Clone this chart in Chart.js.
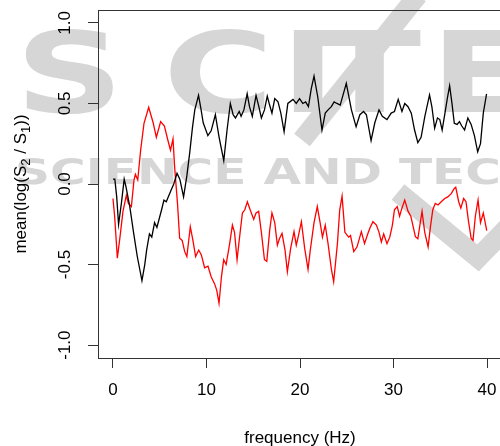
<!DOCTYPE html>
<html>
<head>
<meta charset="utf-8">
<script src="https://cdn.jsdelivr.net/npm/chart.js@4.4.1/dist/chart.umd.min.js"></script>
<style>
  html, body { margin: 0; padding: 0; background: #fff; overflow: hidden; }
  #wrap { width: 500px; height: 446px; overflow: hidden; }
  canvas { display: block; }
</style>
</head>
<body>
<div id="wrap"><canvas id="spectrumChart" width="510" height="446"></canvas></div>
<script>
// frequency (Hz) / mean(log(S2/S1))
var freqBlack = [0.0, 0.2, 0.4, 0.6, 0.9, 1.2, 1.4, 1.8, 2.2, 2.6, 3.1, 3.4, 3.6, 3.9, 4.15, 4.45, 4.7, 5.2, 5.45, 5.7,
  6.2, 6.5, 6.85, 7.15, 7.55, 7.9, 8.2, 8.5, 8.75, 9.15, 9.4, 9.65, 10.15, 10.5, 10.95, 11.35, 11.85, 12.2, 12.55, 12.85,
  13.1, 13.5, 13.7, 14.0, 14.35, 14.6, 14.9, 15.3, 15.6, 15.87, 16.2, 16.5, 16.75, 17.0, 17.3, 17.65, 17.95, 18.3, 18.7, 19.25,
  19.6, 19.95, 20.3, 20.6, 20.9, 21.2, 21.5, 21.9, 22.35, 22.7, 23.0, 23.35, 23.65, 23.95, 24.3, 24.95, 25.5, 26.0, 26.4, 26.8,
  27.1, 27.6, 28.0, 28.45, 28.8, 29.3, 29.75, 30.1, 30.5, 30.9, 31.2, 31.55, 31.9, 32.25, 32.6, 32.95, 33.35, 33.85, 34.1, 34.4,
  34.7, 34.95, 35.2, 35.5, 35.75, 36.0, 36.25, 36.5, 36.8, 37.05, 37.3, 37.6, 37.95, 38.3, 38.65, 39.0, 39.3, 39.6, 39.95];
var logRatioBlack = [0.03, 0.03, -0.08, -0.25, -0.12, 0.03, -0.02, -0.14, -0.3, -0.45, -0.6, -0.5, -0.41, -0.31, -0.33, -0.24, -0.27, -0.16, -0.1, -0.11,
  -0.04, 0.0, 0.066, 0.03, -0.08, 0.05, 0.19, 0.35, 0.46, 0.55, 0.47, 0.38, 0.3, 0.33, 0.43, 0.29, 0.145, 0.335, 0.5, 0.43,
  0.41, 0.45, 0.42, 0.46, 0.56, 0.48, 0.42, 0.55, 0.48, 0.41, 0.46, 0.545, 0.49, 0.44, 0.53, 0.51, 0.44, 0.325, 0.5, 0.525,
  0.5, 0.53, 0.5, 0.51, 0.48, 0.59, 0.67, 0.54, 0.335, 0.44, 0.46, 0.48, 0.51, 0.5, 0.49, 0.625, 0.46, 0.355, 0.43, 0.45,
  0.43, 0.27, 0.38, 0.46, 0.42, 0.4, 0.44, 0.45, 0.525, 0.45, 0.5, 0.48, 0.44, 0.335, 0.257, 0.29, 0.42, 0.553, 0.48, 0.346,
  0.41, 0.4, 0.335, 0.44, 0.53, 0.61, 0.5, 0.377, 0.37, 0.387, 0.36, 0.335, 0.41, 0.37, 0.3, 0.2, 0.25, 0.44, 0.56];

var freqRed = [0.0, 0.18, 0.47, 0.75, 1.07, 1.43, 1.65, 1.97, 2.25, 2.4, 2.65, 2.96, 3.32, 3.82, 4.3, 4.64, 5.1, 5.5, 5.88, 6.15,
  6.42, 6.6, 6.9, 7.13, 7.4, 7.67, 7.9, 8.27, 8.55, 8.84, 9.17, 9.45, 9.8, 10.16, 10.5, 10.87, 11.1, 11.34, 11.6, 11.84,
  12.1, 12.48, 12.77, 13.0, 13.27, 13.5, 13.84, 14.1, 14.37, 14.67, 15.05, 15.3, 15.58, 15.87, 16.2, 16.45, 16.76, 17.0, 17.3, 17.58,
  17.8, 18.08, 18.4, 18.65, 19.0, 19.36, 19.6, 19.8, 20.15, 20.5, 20.86, 21.1, 21.5, 21.85, 22.15, 22.4, 22.7, 23.0, 23.36, 23.6,
  24.0, 24.25, 24.5, 24.8, 25.2, 25.4, 25.75, 26.1, 26.56, 26.9, 27.27, 27.5, 27.8, 28.17, 28.45, 28.7, 28.95, 29.3, 29.6, 29.88,
  30.1, 30.4, 30.65, 30.9, 31.2, 31.56, 31.85, 32.1, 32.34, 32.6, 32.85, 33.05, 33.34, 33.7, 33.95, 34.2, 34.47, 34.76, 35.1, 35.48,
  35.8, 36.17, 36.5, 36.65, 36.97, 37.2, 37.5, 37.75, 38.0, 38.3, 38.5, 38.75, 39.04, 39.3, 39.6, 39.97];
var logRatioRed = [-0.09, -0.2, -0.46, -0.33, -0.17, -0.07, -0.12, -0.14, 0.025, 0.06, 0.025, 0.21, 0.377, 0.476, 0.38, 0.29, 0.387, 0.36, 0.27, 0.21,
  0.28, 0.1, -0.12, -0.337, -0.35, -0.42, -0.45, -0.265, -0.35, -0.45, -0.41, -0.44, -0.52, -0.51, -0.576, -0.62, -0.66, -0.74, -0.576, -0.47,
  -0.5, -0.37, -0.255, -0.3, -0.47, -0.35, -0.18, -0.16, -0.11, -0.16, -0.22, -0.18, -0.17, -0.3, -0.47, -0.48, -0.286, -0.18, -0.24, -0.38,
  -0.34, -0.306, -0.41, -0.545, -0.4, -0.296, -0.38, -0.33, -0.234, -0.4, -0.53, -0.41, -0.24, -0.14, -0.24, -0.33, -0.255, -0.37, -0.53, -0.607,
  -0.37, -0.16, -0.075, -0.3, -0.33, -0.32, -0.42, -0.39, -0.296, -0.37, -0.306, -0.27, -0.234, -0.255, -0.3, -0.36, -0.31, -0.37, -0.33, -0.255,
  -0.16, -0.14, -0.2, -0.15, -0.1, -0.17, -0.2, -0.265, -0.327, -0.34, -0.244, -0.17, -0.3, -0.39, -0.265, -0.16, -0.12, -0.13, -0.11, -0.09,
  -0.08, -0.06, -0.027, -0.02, -0.11, -0.15, -0.09, -0.11, -0.224, -0.337, -0.35, -0.2, -0.1, -0.24, -0.18, -0.29];

var xTicks = [0, 10, 20, 30, 40];
var yTicks = [-1, -0.5, 0, 0.5, 1];
var yTickLabels = ['-1.0', '-0.5', '0.0', '0.5', '1.0'];
var xTitle = 'frequency (Hz)';

var FONT = '"Liberation Sans", Arial, sans-serif';
var FONT_SIZE = 17;

function toPoints(xs, ys) {
  return xs.map(function (x, i) { return { x: x, y: ys[i] }; });
}

// faint publisher watermark behind the plot
var watermark = {
  id: 'watermark',
  beforeDraw: function (chart) {
    var ctx = chart.ctx;
    ctx.save();
    ctx.fillStyle = '#d6d6d6';
    ctx.strokeStyle = '#d6d6d6';
    ctx.textBaseline = 'alphabetic';
    ctx.textAlign = 'left';
    ctx.font = 'bold 112px "DejaVu Sans", sans-serif';
    var big = [['S', 15], ['C', 163], ['I', 280], ['T', 318], ['E', 430]];
    big.forEach(function (b) {
      ctx.save();
      ctx.translate(b[1], 112);
      ctx.scale(1.35, 1);
      ctx.fillText(b[0], 0, 0);
      ctx.restore();
    });
    ctx.save();
    ctx.translate(15, 184);
    ctx.scale(1.35, 1);
    ctx.font = 'bold 36px "DejaVu Sans", sans-serif';
    ctx.fillText('SCIENCE AND TECHNOLOGY', 0, 0);
    ctx.restore();
    ctx.lineWidth = 20;
    ctx.beginPath();
    ctx.moveTo(418, -5);
    ctx.lineTo(302, 140);
    ctx.stroke();
    ctx.beginPath();
    ctx.moveTo(398, 192);
    ctx.lineTo(478, 258);
    ctx.lineTo(510, 225);
    ctx.stroke();
    ctx.restore();
  }
};

// R-style box, rotated y tick labels and axis titles
var rFrame = {
  id: 'rFrame',
  afterDraw: function (chart) {
    var ctx = chart.ctx;
    var a = chart.chartArea;
    var ys = chart.scales.y;
    ctx.save();
    ctx.strokeStyle = '#333';
    ctx.lineWidth = 1;
    ctx.strokeRect(Math.round(a.left) + 0.5, Math.round(a.top) + 0.5, Math.round(a.right - a.left), Math.round(a.bottom - a.top));

    ctx.fillStyle = '#000';
    ctx.font = FONT_SIZE + 'px ' + FONT;
    ctx.textAlign = 'center';
    ctx.textBaseline = 'middle';
    yTicks.forEach(function (v, i) {
      var py = ys.getPixelForValue(v);
      ctx.save();
      ctx.translate(65.5, py);
      ctx.rotate(-Math.PI / 2);
      ctx.fillText(yTickLabels[i], 0, 0);
      ctx.restore();
    });

    ctx.textBaseline = 'alphabetic';
    ctx.fillText(xTitle, (a.left + a.right) / 2, 443);

    var small = Math.round(FONT_SIZE * 0.75) + 'px ' + FONT;
    var big = FONT_SIZE + 'px ' + FONT;
    var parts = [['mean(log(S', big, 0], ['2', small, 4], [' / S', big, 0], ['1', small, 4], ['))', big, 0]];
    var total = 0;
    parts.forEach(function (p) { ctx.font = p[1]; p.w = ctx.measureText(p[0]).width; total += p.w; });
    ctx.save();
    ctx.translate(20, (a.top + a.bottom) / 2);
    ctx.rotate(-Math.PI / 2);
    ctx.textAlign = 'left';
    var x = -total / 2;
    parts.forEach(function (p) {
      ctx.font = p[1];
      ctx.fillText(p[0], x, 6 + p[2]);
      x += p.w;
    });
    ctx.restore();
    ctx.restore();
  }
};

var ctx = document.getElementById('spectrumChart').getContext('2d');
new Chart(ctx, {
  type: 'line',
  data: {
    datasets: [
      {
        label: 'S1',
        data: toPoints(freqBlack, logRatioBlack),
        borderColor: '#000',
        borderWidth: 1.3,
        pointRadius: 0,
        tension: 0,
        fill: false
      },
      {
        label: 'S2',
        data: toPoints(freqRed, logRatioRed),
        borderColor: '#ff0000',
        borderWidth: 1.3,
        pointRadius: 0,
        tension: 0,
        fill: false
      }
    ]
  },
  options: {
    responsive: false,
    animation: false,
    layout: { padding: { top: 10, right: 8, left: 0, bottom: 0 } },
    plugins: {
      legend: { display: false },
      tooltip: { enabled: false }
    },
    scales: {
      x: {
        type: 'linear',
        min: -1.6,
        max: 41.6,
        afterBuildTicks: function (s) { s.ticks = xTicks.map(function (v) { return { value: v }; }); },
        afterFit: function (s) { s.height = 88; },
        border: { display: false },
        grid: { display: true, drawOnChartArea: false, drawTicks: true, tickLength: 10, color: '#333', lineWidth: 1 },
        ticks: { color: '#000', font: { family: FONT, size: FONT_SIZE }, padding: 12, maxRotation: 0, autoSkip: false }
      },
      y: {
        type: 'linear',
        min: -1.08,
        max: 1.08,
        afterBuildTicks: function (s) { s.ticks = yTicks.map(function (v) { return { value: v }; }); },
        afterFit: function (s) { s.width = 98; },
        border: { display: false },
        grid: { display: true, drawOnChartArea: false, drawTicks: true, tickLength: 10, color: '#333', lineWidth: 1 },
        ticks: { display: false }
      }
    }
  },
  plugins: [watermark, rFrame]
});
</script>
</body>
</html>
